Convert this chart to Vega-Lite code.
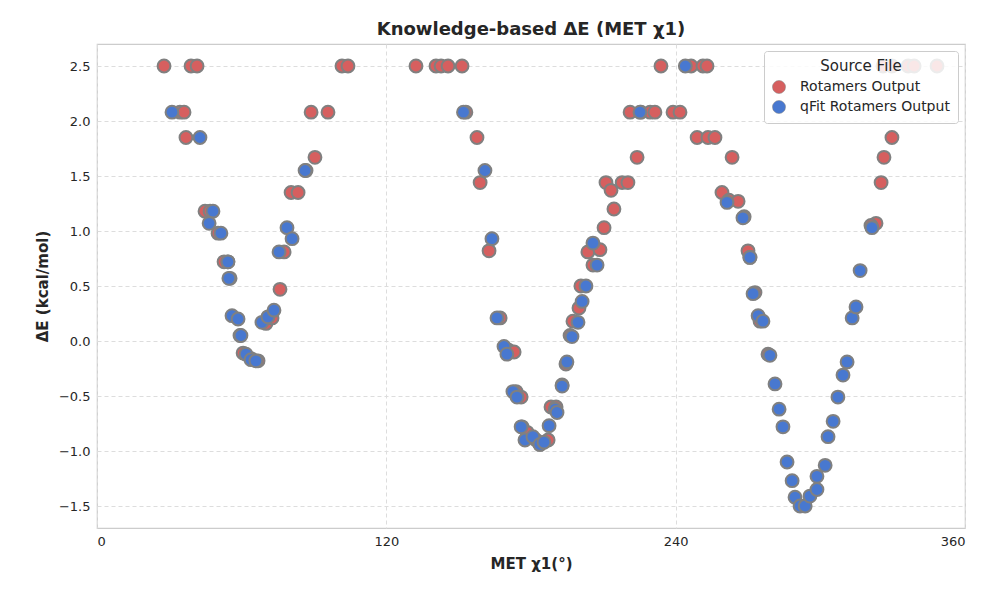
{
  "$schema": "https://vega.github.io/schema/vega-lite/v6.json",
  "width": 868,
  "height": 484,
  "autosize": "none",
  "padding": {"left": 97, "top": 44, "right": 35, "bottom": 72},
  "background": "white",
  "title": {"text": "Knowledge-based ΔE (MET χ1)", "fontSize": 18, "fontWeight": "bold", "font": "DejaVu Sans", "color": "#262626", "offset": 5},
  "data": {"values": [
    {"chi": 27.8, "dE": 2.5, "src": "Rotamers Output"},
    {"chi": 34.4, "dE": 2.08, "src": "Rotamers Output"},
    {"chi": 36.1, "dE": 2.08, "src": "Rotamers Output"},
    {"chi": 36.9, "dE": 1.85, "src": "Rotamers Output"},
    {"chi": 39.0, "dE": 2.5, "src": "Rotamers Output"},
    {"chi": 41.5, "dE": 2.5, "src": "Rotamers Output"},
    {"chi": 44.8, "dE": 1.18, "src": "Rotamers Output"},
    {"chi": 46.9, "dE": 1.18, "src": "Rotamers Output"},
    {"chi": 50.2, "dE": 0.98, "src": "Rotamers Output"},
    {"chi": 52.7, "dE": 0.72, "src": "Rotamers Output"},
    {"chi": 54.3, "dE": 0.72, "src": "Rotamers Output"},
    {"chi": 55.2, "dE": 0.57, "src": "Rotamers Output"},
    {"chi": 59.3, "dE": 0.05, "src": "Rotamers Output"},
    {"chi": 60.6, "dE": -0.11, "src": "Rotamers Output"},
    {"chi": 63.9, "dE": -0.16, "src": "Rotamers Output"},
    {"chi": 66.8, "dE": -0.18, "src": "Rotamers Output"},
    {"chi": 70.1, "dE": 0.16, "src": "Rotamers Output"},
    {"chi": 72.6, "dE": 0.21, "src": "Rotamers Output"},
    {"chi": 75.9, "dE": 0.47, "src": "Rotamers Output"},
    {"chi": 77.6, "dE": 0.81, "src": "Rotamers Output"},
    {"chi": 80.5, "dE": 1.35, "src": "Rotamers Output"},
    {"chi": 83.4, "dE": 1.35, "src": "Rotamers Output"},
    {"chi": 86.7, "dE": 1.55, "src": "Rotamers Output"},
    {"chi": 90.4, "dE": 1.67, "src": "Rotamers Output"},
    {"chi": 88.8, "dE": 2.08, "src": "Rotamers Output"},
    {"chi": 95.8, "dE": 2.08, "src": "Rotamers Output"},
    {"chi": 101.6, "dE": 2.5, "src": "Rotamers Output"},
    {"chi": 104.1, "dE": 2.5, "src": "Rotamers Output"},
    {"chi": 132.3, "dE": 2.5, "src": "Rotamers Output"},
    {"chi": 140.6, "dE": 2.5, "src": "Rotamers Output"},
    {"chi": 142.7, "dE": 2.5, "src": "Rotamers Output"},
    {"chi": 145.6, "dE": 2.5, "src": "Rotamers Output"},
    {"chi": 151.4, "dE": 2.5, "src": "Rotamers Output"},
    {"chi": 153.0, "dE": 2.08, "src": "Rotamers Output"},
    {"chi": 157.6, "dE": 1.85, "src": "Rotamers Output"},
    {"chi": 158.9, "dE": 1.44, "src": "Rotamers Output"},
    {"chi": 162.6, "dE": 0.82, "src": "Rotamers Output"},
    {"chi": 167.2, "dE": 0.21, "src": "Rotamers Output"},
    {"chi": 170.5, "dE": -0.08, "src": "Rotamers Output"},
    {"chi": 173.0, "dE": -0.1, "src": "Rotamers Output"},
    {"chi": 173.8, "dE": -0.46, "src": "Rotamers Output"},
    {"chi": 175.9, "dE": -0.51, "src": "Rotamers Output"},
    {"chi": 176.3, "dE": -0.78, "src": "Rotamers Output"},
    {"chi": 178.4, "dE": -0.83, "src": "Rotamers Output"},
    {"chi": 182.1, "dE": -0.9, "src": "Rotamers Output"},
    {"chi": 183.7, "dE": -0.94, "src": "Rotamers Output"},
    {"chi": 187.1, "dE": -0.9, "src": "Rotamers Output"},
    {"chi": 188.3, "dE": -0.6, "src": "Rotamers Output"},
    {"chi": 190.4, "dE": -0.6, "src": "Rotamers Output"},
    {"chi": 192.9, "dE": -0.4, "src": "Rotamers Output"},
    {"chi": 194.5, "dE": -0.21, "src": "Rotamers Output"},
    {"chi": 196.2, "dE": 0.05, "src": "Rotamers Output"},
    {"chi": 197.4, "dE": 0.18, "src": "Rotamers Output"},
    {"chi": 199.9, "dE": 0.3, "src": "Rotamers Output"},
    {"chi": 200.7, "dE": 0.5, "src": "Rotamers Output"},
    {"chi": 203.6, "dE": 0.81, "src": "Rotamers Output"},
    {"chi": 205.7, "dE": 0.69, "src": "Rotamers Output"},
    {"chi": 208.6, "dE": 0.83, "src": "Rotamers Output"},
    {"chi": 210.3, "dE": 1.03, "src": "Rotamers Output"},
    {"chi": 211.1, "dE": 1.44, "src": "Rotamers Output"},
    {"chi": 213.2, "dE": 1.37, "src": "Rotamers Output"},
    {"chi": 214.4, "dE": 1.2, "src": "Rotamers Output"},
    {"chi": 217.8, "dE": 1.44, "src": "Rotamers Output"},
    {"chi": 220.2, "dE": 1.44, "src": "Rotamers Output"},
    {"chi": 221.1, "dE": 2.08, "src": "Rotamers Output"},
    {"chi": 224.0, "dE": 1.67, "src": "Rotamers Output"},
    {"chi": 225.6, "dE": 2.08, "src": "Rotamers Output"},
    {"chi": 229.4, "dE": 2.08, "src": "Rotamers Output"},
    {"chi": 231.4, "dE": 2.08, "src": "Rotamers Output"},
    {"chi": 233.9, "dE": 2.5, "src": "Rotamers Output"},
    {"chi": 238.9, "dE": 2.08, "src": "Rotamers Output"},
    {"chi": 241.8, "dE": 2.08, "src": "Rotamers Output"},
    {"chi": 246.4, "dE": 2.5, "src": "Rotamers Output"},
    {"chi": 251.3, "dE": 2.5, "src": "Rotamers Output"},
    {"chi": 253.0, "dE": 2.5, "src": "Rotamers Output"},
    {"chi": 248.9, "dE": 1.85, "src": "Rotamers Output"},
    {"chi": 253.4, "dE": 1.85, "src": "Rotamers Output"},
    {"chi": 256.3, "dE": 1.85, "src": "Rotamers Output"},
    {"chi": 259.2, "dE": 1.35, "src": "Rotamers Output"},
    {"chi": 262.1, "dE": 1.28, "src": "Rotamers Output"},
    {"chi": 263.4, "dE": 1.67, "src": "Rotamers Output"},
    {"chi": 265.9, "dE": 1.27, "src": "Rotamers Output"},
    {"chi": 268.4, "dE": 1.13, "src": "Rotamers Output"},
    {"chi": 270.0, "dE": 0.82, "src": "Rotamers Output"},
    {"chi": 270.8, "dE": 0.76, "src": "Rotamers Output"},
    {"chi": 272.9, "dE": 0.44, "src": "Rotamers Output"},
    {"chi": 275.0, "dE": 0.18, "src": "Rotamers Output"},
    {"chi": 278.3, "dE": -0.12, "src": "Rotamers Output"},
    {"chi": 326.0, "dE": 2.5, "src": "Rotamers Output"},
    {"chi": 329.7, "dE": 2.5, "src": "Rotamers Output"},
    {"chi": 336.4, "dE": 2.5, "src": "Rotamers Output"},
    {"chi": 338.9, "dE": 2.5, "src": "Rotamers Output"},
    {"chi": 348.4, "dE": 2.5, "src": "Rotamers Output"},
    {"chi": 329.7, "dE": 1.85, "src": "Rotamers Output"},
    {"chi": 326.4, "dE": 1.67, "src": "Rotamers Output"},
    {"chi": 325.2, "dE": 1.44, "src": "Rotamers Output"},
    {"chi": 323.1, "dE": 1.07, "src": "Rotamers Output"},
    {"chi": 321.0, "dE": 1.05, "src": "Rotamers Output"},
    {"chi": 31.1, "dE": 2.08, "src": "qFit Rotamers Output"},
    {"chi": 42.7, "dE": 1.85, "src": "qFit Rotamers Output"},
    {"chi": 48.1, "dE": 1.18, "src": "qFit Rotamers Output"},
    {"chi": 46.5, "dE": 1.07, "src": "qFit Rotamers Output"},
    {"chi": 51.4, "dE": 0.98, "src": "qFit Rotamers Output"},
    {"chi": 54.7, "dE": 0.57, "src": "qFit Rotamers Output"},
    {"chi": 54.3, "dE": 0.72, "src": "qFit Rotamers Output"},
    {"chi": 56.0, "dE": 0.23, "src": "qFit Rotamers Output"},
    {"chi": 58.5, "dE": 0.2, "src": "qFit Rotamers Output"},
    {"chi": 59.7, "dE": 0.05, "src": "qFit Rotamers Output"},
    {"chi": 61.8, "dE": -0.12, "src": "qFit Rotamers Output"},
    {"chi": 63.9, "dE": -0.17, "src": "qFit Rotamers Output"},
    {"chi": 65.9, "dE": -0.18, "src": "qFit Rotamers Output"},
    {"chi": 68.4, "dE": 0.17, "src": "qFit Rotamers Output"},
    {"chi": 70.9, "dE": 0.22, "src": "qFit Rotamers Output"},
    {"chi": 73.4, "dE": 0.28, "src": "qFit Rotamers Output"},
    {"chi": 75.5, "dE": 0.81, "src": "qFit Rotamers Output"},
    {"chi": 78.8, "dE": 1.03, "src": "qFit Rotamers Output"},
    {"chi": 80.9, "dE": 0.93, "src": "qFit Rotamers Output"},
    {"chi": 86.3, "dE": 1.55, "src": "qFit Rotamers Output"},
    {"chi": 152.0, "dE": 2.08, "src": "qFit Rotamers Output"},
    {"chi": 160.9, "dE": 1.55, "src": "qFit Rotamers Output"},
    {"chi": 163.8, "dE": 0.93, "src": "qFit Rotamers Output"},
    {"chi": 165.9, "dE": 0.21, "src": "qFit Rotamers Output"},
    {"chi": 168.8, "dE": -0.05, "src": "qFit Rotamers Output"},
    {"chi": 170.0, "dE": -0.12, "src": "qFit Rotamers Output"},
    {"chi": 172.5, "dE": -0.46, "src": "qFit Rotamers Output"},
    {"chi": 174.2, "dE": -0.51, "src": "qFit Rotamers Output"},
    {"chi": 175.9, "dE": -0.78, "src": "qFit Rotamers Output"},
    {"chi": 177.5, "dE": -0.9, "src": "qFit Rotamers Output"},
    {"chi": 180.8, "dE": -0.87, "src": "qFit Rotamers Output"},
    {"chi": 183.7, "dE": -0.94, "src": "qFit Rotamers Output"},
    {"chi": 185.4, "dE": -0.92, "src": "qFit Rotamers Output"},
    {"chi": 187.5, "dE": -0.77, "src": "qFit Rotamers Output"},
    {"chi": 190.0, "dE": -0.62, "src": "qFit Rotamers Output"},
    {"chi": 190.8, "dE": -0.65, "src": "qFit Rotamers Output"},
    {"chi": 192.9, "dE": -0.41, "src": "qFit Rotamers Output"},
    {"chi": 194.9, "dE": -0.19, "src": "qFit Rotamers Output"},
    {"chi": 197.0, "dE": 0.04, "src": "qFit Rotamers Output"},
    {"chi": 199.5, "dE": 0.17, "src": "qFit Rotamers Output"},
    {"chi": 201.2, "dE": 0.36, "src": "qFit Rotamers Output"},
    {"chi": 202.8, "dE": 0.5, "src": "qFit Rotamers Output"},
    {"chi": 207.4, "dE": 0.69, "src": "qFit Rotamers Output"},
    {"chi": 205.7, "dE": 0.89, "src": "qFit Rotamers Output"},
    {"chi": 225.2, "dE": 2.08, "src": "qFit Rotamers Output"},
    {"chi": 244.0, "dE": 2.5, "src": "qFit Rotamers Output"},
    {"chi": 261.3, "dE": 1.26, "src": "qFit Rotamers Output"},
    {"chi": 267.9, "dE": 1.12, "src": "qFit Rotamers Output"},
    {"chi": 270.8, "dE": 0.76, "src": "qFit Rotamers Output"},
    {"chi": 272.1, "dE": 0.43, "src": "qFit Rotamers Output"},
    {"chi": 274.2, "dE": 0.23, "src": "qFit Rotamers Output"},
    {"chi": 276.2, "dE": 0.18, "src": "qFit Rotamers Output"},
    {"chi": 279.1, "dE": -0.13, "src": "qFit Rotamers Output"},
    {"chi": 281.2, "dE": -0.39, "src": "qFit Rotamers Output"},
    {"chi": 282.9, "dE": -0.62, "src": "qFit Rotamers Output"},
    {"chi": 284.5, "dE": -0.78, "src": "qFit Rotamers Output"},
    {"chi": 286.2, "dE": -1.1, "src": "qFit Rotamers Output"},
    {"chi": 288.3, "dE": -1.27, "src": "qFit Rotamers Output"},
    {"chi": 289.5, "dE": -1.42, "src": "qFit Rotamers Output"},
    {"chi": 291.6, "dE": -1.5, "src": "qFit Rotamers Output"},
    {"chi": 293.7, "dE": -1.5, "src": "qFit Rotamers Output"},
    {"chi": 295.7, "dE": -1.41, "src": "qFit Rotamers Output"},
    {"chi": 298.6, "dE": -1.35, "src": "qFit Rotamers Output"},
    {"chi": 298.6, "dE": -1.23, "src": "qFit Rotamers Output"},
    {"chi": 302.0, "dE": -1.13, "src": "qFit Rotamers Output"},
    {"chi": 303.2, "dE": -0.87, "src": "qFit Rotamers Output"},
    {"chi": 305.3, "dE": -0.73, "src": "qFit Rotamers Output"},
    {"chi": 307.3, "dE": -0.51, "src": "qFit Rotamers Output"},
    {"chi": 309.4, "dE": -0.31, "src": "qFit Rotamers Output"},
    {"chi": 311.1, "dE": -0.19, "src": "qFit Rotamers Output"},
    {"chi": 313.2, "dE": 0.21, "src": "qFit Rotamers Output"},
    {"chi": 314.8, "dE": 0.31, "src": "qFit Rotamers Output"},
    {"chi": 316.5, "dE": 0.64, "src": "qFit Rotamers Output"},
    {"chi": 321.4, "dE": 1.03, "src": "qFit Rotamers Output"}
  ]},
  "mark": {"type": "point", "filled": true, "size": 165, "opacity": 1, "stroke": "#808080", "strokeWidth": 2},
  "encoding": {
    "x": {"field": "chi", "type": "quantitative", "title": "MET χ1(°)",
      "scale": {"domain": [0, 360], "nice": false, "zero": false},
      "axis": {"values": [0, 120, 240, 360]}},
    "y": {"field": "dE", "type": "quantitative", "title": "ΔE (kcal/mol)",
      "scale": {"domain": [-1.7, 2.7], "nice": false, "zero": false},
      "axis": {"values": [-1.5, -1.0, -0.5, 0.0, 0.5, 1.0, 1.5, 2.0, 2.5], "format": ".1f"}},
    "color": {"field": "src", "type": "nominal", "title": "Source File",
      "scale": {"domain": ["Rotamers Output", "qFit Rotamers Output"], "range": ["#d65f5f", "#4878d0"]},
      "legend": {"orient": "top-right", "offset": 7, "padding": 8, "strokeColor": "#cccccc", "fillColor": "rgba(255,255,255,0.85)", "cornerRadius": 3,
        "titleFontSize": 15, "titleFontWeight": "normal", "titleAlign": "center", "titleAnchor": "middle", "titlePadding": 6, "labelFontSize": 14, "labelOffset": 14, "symbolSize": 170, "symbolStrokeColor": "#808080", "symbolStrokeWidth": 0.5, "rowPadding": 4, "titleColor": "#262626", "labelColor": "#262626"}}
  },
  "config": {
    "font": "DejaVu Sans",
    "view": {"stroke": "#cccccc", "strokeWidth": 1.2},
    "axis": {"grid": true, "gridColor": "#dddddd", "gridDash": [4, 3], "domain": false, "ticks": false,
      "labelFontSize": 13, "labelColor": "#262626", "labelPadding": 7,
      "titleFontSize": 15, "titleFontWeight": "bold", "titleColor": "#262626", "titlePadding": 8}
  }
}
